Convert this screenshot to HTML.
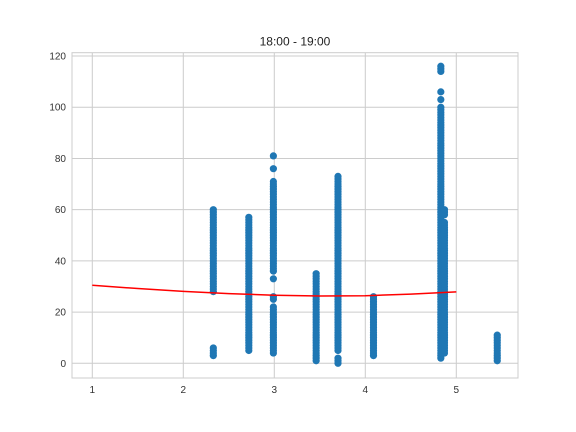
<!DOCTYPE html>
<html><head><meta charset="utf-8"><style>
body{margin:0;background:#fff;}
svg{display:block;font-family:"Liberation Sans",sans-serif;}
</style></head><body>
<svg id="chart" width="576" height="432"></svg>
<script>
const xTicks=[1,2,3,4,5];
const yTicks=[0,20,40,60,80,100,120];
const colX=[2.33,2.72,2.99,3.46,3.70,4.09,4.83,4.87,5.45];
const colY0=[3,4,5,6,28,29,30,31,32,33,34,35,36,37,38,39,40,41,42,43,44,45,46,47,48,49,50,51,52,53,54,55,56,57,58,59,60];
const colY1=[5,6,7,8,9,10,11,12,13,14,15,16,17,18,19,20,21,22,23,24,25,26,27,28,29,30,31,32,33,34,35,36,37,38,39,40,41,42,43,44,45,46,47,48,49,50,51,52,53,54,55,56,57];
const colY2=[4,5,6,7,8,9,10,11,12,13,14,15,16,17,18,19,20,21,22,25,26,33,36,37,38,39,40,41,42,43,44,45,46,47,48,49,50,51,52,53,54,55,56,57,58,59,60,61,62,63,64,65,66,67,68,69,70,71,76,81];
const colY3=[1,2,3,4,5,6,7,8,9,10,11,12,13,14,15,16,17,18,19,20,21,22,23,24,25,26,27,28,29,30,31,32,33,34,35];
const colY4=[0,1,2,5,6,7,8,9,10,11,12,13,14,15,16,17,18,19,20,21,22,23,24,25,26,27,28,29,30,31,32,33,34,35,36,37,38,39,40,41,42,43,44,45,46,47,48,49,50,51,52,53,54,55,56,57,58,59,60,61,62,63,64,65,66,67,68,69,70,71,72,73];
const colY5=[3,4,5,6,7,8,9,10,11,12,13,14,15,16,17,18,19,20,21,22,23,24,25,26];
const colY6=[2,3,4,5,6,7,8,9,10,11,12,13,14,15,16,17,18,19,20,21,22,23,24,25,26,27,28,29,30,31,32,33,34,35,36,37,38,39,40,41,42,43,44,45,46,47,48,49,50,51,52,53,54,55,56,57,58,59,60,61,62,63,64,65,66,67,68,69,70,71,72,73,74,75,76,77,78,79,80,81,82,83,84,85,86,87,88,89,90,91,92,93,94,95,96,97,98,99,100,103,106,114,115,116];
const colY7=[4,5,6,7,8,9,10,11,12,13,14,15,16,17,18,19,20,21,22,23,24,25,26,27,28,29,30,31,32,33,34,35,36,37,38,39,40,41,42,43,44,45,46,47,48,49,50,51,52,53,54,55,58,59,60];
const colY8=[1,2,3,4,5,6,7,8,9,10,11];
const colYs=[colY0,colY1,colY2,colY3,colY4,colY5,colY6,colY7,colY8];
const fitX=[1,1.5,2,2.5,3,3.5,4,4.5,5];
const fitY=[30.5,29.2,28.1,27.2,26.6,26.3,26.4,27.0,27.9];

const L=72,R=518,T=52.7,B=378;
const xmin=0.777,xmax=5.678,ymin=-5.74,ymax=121.3;
const sx=v=>L+(v-xmin)/(xmax-xmin)*(R-L);
const sy=v=>B-(v-ymin)/(ymax-ymin)*(B-T);
const NS="http://www.w3.org/2000/svg";
const svg=document.getElementById('chart');
function mk(tag,attrs,parent){const e=document.createElementNS(NS,tag);for(const k in attrs)e.setAttribute(k,attrs[k]);(parent||svg).appendChild(e);return e;}

const frame=mk('rect',{x:L,y:T,width:R-L,height:B-T,fill:'#fff',stroke:'#cccccc','stroke-width':1});



xTicks.forEach(t=>{
  const g=mk('line',{x1:sx(t),x2:sx(t),y1:T,y2:B,stroke:'#cccccc','stroke-width':1});
  
  
  const tx=mk('text',{x:sx(t),y:B+15,'text-anchor':'middle','font-size':10,fill:'#333'});
  tx.textContent=t;
  
  
});
yTicks.forEach(t=>{
  const g=mk('line',{x1:L,x2:R,y1:sy(t),y2:sy(t),stroke:'#cccccc','stroke-width':1});
  
  
  const tx=mk('text',{x:L-6,y:sy(t)+3.5,'text-anchor':'end','font-size':10,fill:'#333'});
  tx.textContent=t;
  
  
});

const pts=mk('g',{fill:'#1f77b4'});


colX.forEach((x,i)=>{
  colYs[i].forEach(y=>{
    const c=mk('circle',{cx:sx(x),cy:sy(y),r:3.6},pts);
    
    
  });
});

const line=mk('polyline',{points:fitX.map((x,i)=>sx(x)+','+sy(fitY[i])).join(' '),fill:'none',stroke:'#ff0000','stroke-width':1.5});



const title=mk('text',{x:(L+R)/2,y:T-7,'text-anchor':'middle','font-size':12,fill:'#222'});
title.textContent='18:00 - 19:00';


</script>
</body></html>
